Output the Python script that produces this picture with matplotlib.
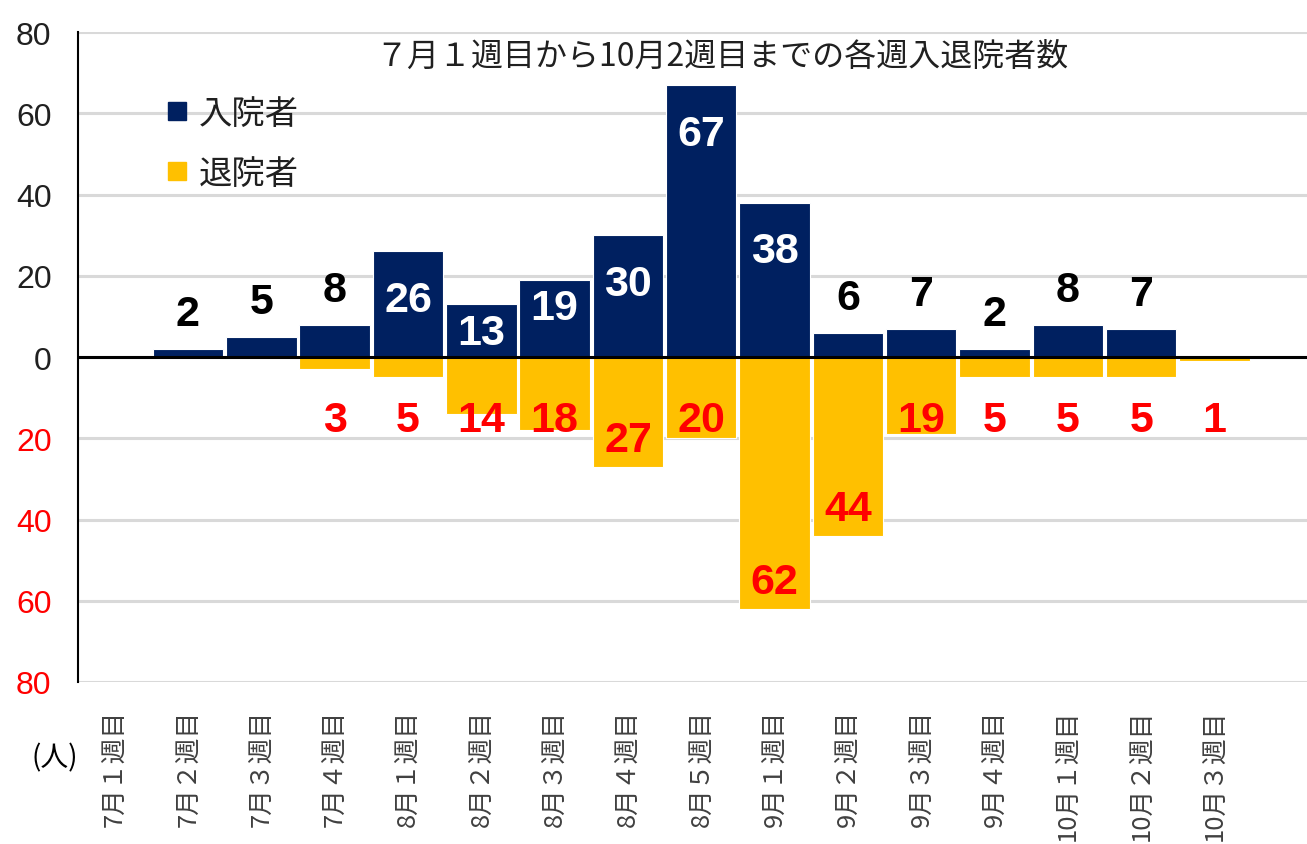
#!/usr/bin/env python3
import numpy as np
import matplotlib.pyplot as plt
from matplotlib.lines import Line2D

# Excel-like colors
NAVY = '#002060'
GOLD = '#FFC000'
RED = '#FF0000'
GRID = '#D9D9D9'

JP = ['Noto Sans CJK JP', 'DejaVu Sans']
NUM = ['Liberation Sans', 'DejaVu Sans']

# Data
weeks = ['7月１週目', '7月２週目', '7月３週目', '7月４週目',
         '8月１週目', '8月２週目', '8月３週目', '8月４週目', '8月５週目',
         '9月１週目', '9月２週目', '9月３週目', '9月４週目',
         '10月１週目', '10月２週目', '10月３週目']
admitted = [0, 2, 5, 8, 26, 13, 19, 30, 67, 38, 6, 7, 2, 8, 7, 0]
discharged = [0, 0, 0, 3, 5, 14, 18, 27, 20, 62, 44, 19, 5, 5, 5, 1]
yticks = [80, 60, 40, 20, 0, -20, -40, -60, -80]

W, H = 1307, 845
fig = plt.figure(figsize=(W / 100, H / 100), dpi=100)
ax = fig.add_axes([78 / W, 1 - 683 / H, (W - 78) / W, (683 - 33) / H])

x = np.arange(len(weeks))
adm = np.array(admitted)
dis = np.array(discharged)

ax.bar(x, adm, 0.96, color=NAVY, edgecolor='white', linewidth=0.8, zorder=3)
ax.bar(x, -dis, 0.96, color=GOLD, edgecolor='white', linewidth=0.8, zorder=3)

# Axes settings
ax.set_xlim(-0.5, 16.26)
ax.set_ylim(-80, 80)
ax.set_yticks(yticks)
ax.set_yticklabels([str(abs(v)) for v in yticks], family=NUM, fontsize=23)
for lab, v in zip(ax.get_yticklabels(), yticks):
    lab.set_color(RED if v < 0 else '#202020')
ax.tick_params(axis='y', length=0, pad=19)
ax.set_xticks(x)
ax.set_xticklabels(weeks, rotation=90, family=JP, fontsize=18.5, color='#404040',
                   ha='center', va='top')
ax.tick_params(axis='x', length=0, pad=19)

for s in ['top', 'right', 'bottom']:
    ax.spines[s].set_visible(False)
ax.spines['left'].set_color('black')
ax.spines['left'].set_linewidth(1.5)
ax.spines['left'].set_zorder(5)
ax.yaxis.grid(True, color=GRID, linewidth=2.2, zorder=0)
ax.set_axisbelow(True)
ax.axhline(0, color='black', linewidth=2.2, zorder=4)

# Data labels
lab_kw = dict(ha='center', va='center', family=NUM, fontsize=31,
              fontweight='bold', zorder=6)
for xi, v in zip(x, adm):
    if v == 0:
        continue
    if v < 10:
        ax.text(xi, v + 8.5, str(v), color='black', **lab_kw)
    else:
        yy = v - 12 if v >= 20 else v - 7
        ax.text(xi, yy, str(v), color='white', **lab_kw)
for xi, v in zip(x, dis):
    if v == 0:
        continue
    ax.text(xi, -max(v - 6.5, 15.5), str(v), color=RED, **lab_kw)

# Title inside the plot
fig.text(722 / W, 1 - 57 / H, '７月１週目から10月2週目までの各週入退院者数',
         ha='center', va='center', family=JP, fontsize=23, color='#202020')

# Legend
handles = [Line2D([], [], ls='none', marker='s', markersize=12.5, color=NAVY),
           Line2D([], [], ls='none', marker='s', markersize=12.5, color=GOLD)]
ax.legend(handles, ['入院者', '退院者'], loc='upper left',
          bbox_to_anchor=(150 / W, 1 - 80 / H), bbox_transform=fig.transFigure,
          frameon=False, prop={'family': JP, 'size': 24}, handlelength=0.6,
          handletextpad=0.35, labelspacing=0.75, borderpad=0, labelcolor='#202020')

fig.text(55 / W, 1 - 758 / H, '(人)', ha='center', va='center', family=JP,
         fontsize=20, color='black')

fig.savefig('out.png', dpi=100)
